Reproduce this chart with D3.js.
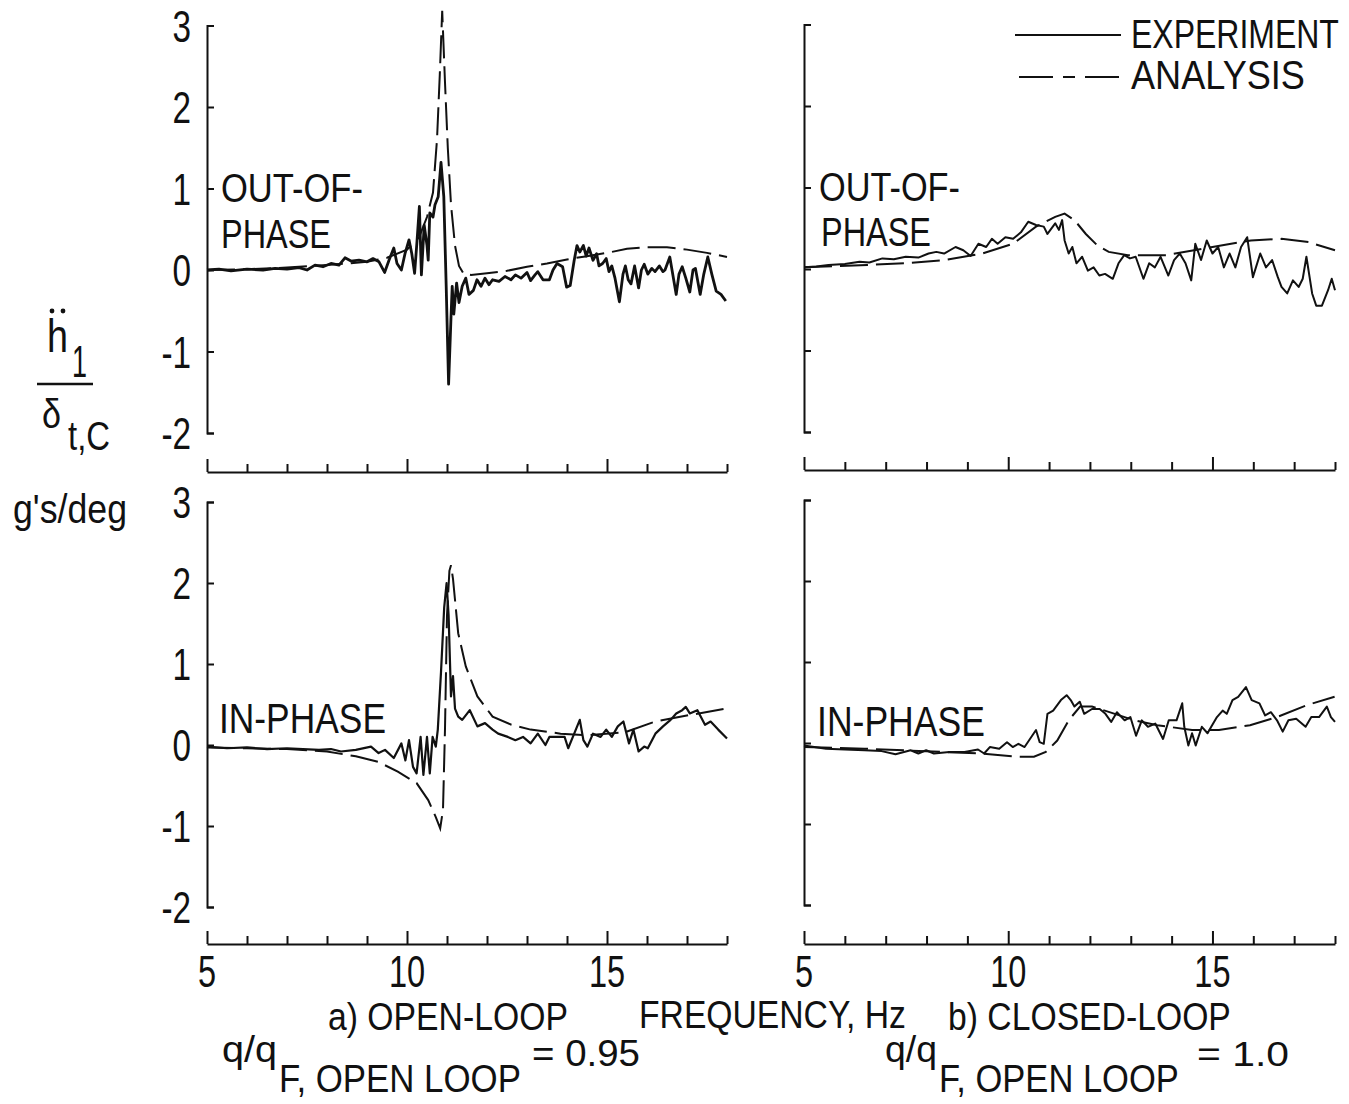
<!DOCTYPE html>
<html>
<head>
<meta charset="utf-8" />
<title>Frequency response, open and closed loop</title>
<style>
  body { margin: 0; background: #fff; }
  text { font-family: "Liberation Sans", Arial, sans-serif; fill: #111; }
  .axis path, .axis line { stroke: #111; stroke-width: 2px; }
  .exp { fill: none; stroke: #111; stroke-width: 2px; stroke-linejoin: round; }
  .ana { fill: none; stroke: #111; stroke-width: 2px; stroke-dasharray: 28,8; }
</style>
</head>
<body>
<svg id="chart" width="1349" height="1104"></svg>
<script src="https://d3js.org/d3.v7.min.js"></script>
<script>
// ---------------- data: [frequency Hz, h1/delta g's/deg] ----------------
var xTicks = [5, 6, 7, 8, 9, 10, 11, 12, 13, 14, 15, 16, 17, 18];
var xLabels = [5, 10, 15];
var yTicks = [-2, -1, 0, 1, 2, 3];

// a) open loop, out-of-phase
var expOpenOut = [[5,0.0],[5.3,0.01],[5.6,-0.01],[6,0.01],[6.4,0.0],[6.7,0.02],[7,0.01],[7.3,0.03],[7.5,0.0],[7.7,0.06],[7.9,0.04],[8.1,0.08],[8.3,0.06],[8.45,0.15],[8.6,0.11],[8.8,0.12],[9.0,0.1],[9.15,0.14],[9.3,0.1],[9.44,-0.03],[9.55,0.12],[9.67,0.27],[9.75,0.08],[9.86,0.0],[9.95,0.2],[10.05,0.37],[10.12,0.2],[10.19,-0.04],[10.25,0.35],[10.31,0.78],[10.36,-0.06],[10.43,0.55],[10.5,0.3],[10.53,0.12],[10.57,0.7],[10.65,0.65],[10.7,0.8],[10.78,0.9],[10.85,1.32],[10.92,0.9],[10.98,-0.2],[11.04,-1.4],[11.1,-0.58],[11.13,-0.2],[11.17,-0.54],[11.24,-0.16],[11.3,-0.4],[11.38,-0.2],[11.47,-0.1],[11.55,-0.3],[11.66,-0.25],[11.75,-0.12],[11.85,-0.2],[11.95,-0.1],[12.05,-0.18],[12.14,-0.12],[12.3,-0.14],[12.45,-0.08],[12.6,-0.12],[12.71,-0.06],[12.85,-0.1],[13.0,-0.03],[13.09,-0.13],[13.2,-0.06],[13.27,-0.02],[13.4,-0.12],[13.56,-0.12],[13.65,0.0],[13.75,0.08],[13.89,0.04],[13.99,-0.21],[14.08,-0.19],[14.18,0.12],[14.25,0.3],[14.32,0.22],[14.41,0.3],[14.48,0.17],[14.55,0.27],[14.65,0.12],[14.74,0.2],[14.8,0.05],[14.89,0.08],[14.98,0.14],[15.05,-0.02],[15.12,0.05],[15.2,-0.1],[15.31,-0.39],[15.4,-0.05],[15.46,0.05],[15.53,-0.12],[15.6,-0.17],[15.69,0.05],[15.79,-0.22],[15.86,0.0],[15.93,0.07],[16.02,-0.05],[16.12,0.02],[16.2,-0.02],[16.31,0.05],[16.4,-0.02],[16.45,0.0],[16.57,0.16],[16.73,-0.3],[16.8,-0.05],[16.88,0.04],[16.97,-0.1],[17.07,-0.27],[17.15,0.0],[17.21,0.02],[17.33,-0.3],[17.42,-0.05],[17.52,0.16],[17.62,-0.05],[17.73,-0.26],[17.85,-0.3],[17.97,-0.38]];
var anaOpenOut = [[5,0],[6,0.01],[7,0.03],[8,0.06],[8.5,0.08],[9,0.1],[9.5,0.15],[10,0.25],[10.3,0.4],[10.5,0.65],[10.65,0.95],[10.75,1.6],[10.82,2.4],[10.88,3.18],[10.95,2.3],[11.02,1.5],[11.1,0.8],[11.2,0.3],[11.3,0.05],[11.42,-0.05],[11.6,-0.06],[12,-0.04],[12.5,-0.01],[13,0.04],[13.5,0.08],[14,0.13],[14.5,0.17],[15,0.21],[15.5,0.26],[16,0.28],[16.5,0.28],[17,0.25],[17.5,0.21],[18,0.16]];

// a) open loop, in-phase
var expOpenIn = [[5,-0.02],[5.5,-0.04],[6,-0.03],[6.5,-0.05],[7,-0.04],[7.4,-0.05],[7.8,-0.06],[8.1,-0.05],[8.35,-0.08],[8.72,-0.06],[9.1,-0.02],[9.29,-0.1],[9.45,-0.06],[9.67,-0.16],[9.86,0.02],[9.96,-0.19],[10.05,0.06],[10.15,-0.27],[10.24,-0.35],[10.34,0.1],[10.41,-0.37],[10.5,0.1],[10.57,-0.35],[10.64,0.1],[10.72,-0.02],[10.77,0.19],[10.85,0.9],[10.93,1.7],[10.99,2.0],[11.04,1.6],[11.1,0.6],[11.15,0.85],[11.2,0.45],[11.28,0.35],[11.38,0.31],[11.57,0.43],[11.76,0.23],[11.95,0.27],[12.14,0.19],[12.28,0.14],[12.52,0.1],[12.71,0.06],[12.9,0.1],[13.09,0.02],[13.27,0.14],[13.46,0.0],[13.56,0.1],[13.75,0.1],[13.94,0.1],[14.03,-0.04],[14.18,0.14],[14.32,0.31],[14.41,0.06],[14.51,-0.02],[14.65,0.14],[14.84,0.1],[14.98,0.19],[15.12,0.1],[15.27,0.23],[15.41,0.29],[15.55,0.02],[15.66,0.19],[15.79,-0.08],[15.93,-0.02],[16.02,-0.04],[16.21,0.14],[16.4,0.23],[16.59,0.31],[16.73,0.39],[16.88,0.43],[16.97,0.47],[17.07,0.39],[17.26,0.43],[17.45,0.25],[17.59,0.29],[17.78,0.19],[18,0.08]];
var anaOpenIn = [[5,-0.03],[6,-0.04],[7,-0.05],[8,-0.08],[8.72,-0.14],[9.29,-0.21],[9.77,-0.33],[10.24,-0.47],[10.53,-0.68],[10.72,-0.89],[10.83,-1.03],[10.9,-0.8],[10.95,0.2],[11.0,1.6],[11.06,2.15],[11.1,2.22],[11.15,2.05],[11.28,1.38],[11.47,0.97],[11.76,0.6],[12.14,0.35],[12.61,0.25],[13.09,0.19],[13.84,0.14],[14.51,0.12],[15.46,0.16],[16.21,0.29],[17.07,0.37],[17.97,0.45]];

// b) closed loop, out-of-phase
var expClosedOut = [[5,0.02],[5.3,0.03],[5.6,0.05],[6,0.06],[6.36,0.09],[6.6,0.08],[6.92,0.13],[7.2,0.12],[7.49,0.15],[7.8,0.14],[8.05,0.19],[8.24,0.21],[8.43,0.19],[8.71,0.27],[8.9,0.23],[9.08,0.16],[9.27,0.31],[9.46,0.27],[9.6,0.37],[9.74,0.31],[9.93,0.39],[10.12,0.37],[10.31,0.45],[10.49,0.58],[10.68,0.54],[10.87,0.52],[10.96,0.43],[11.15,0.56],[11.24,0.48],[11.32,0.6],[11.38,0.35],[11.48,0.19],[11.57,0.27],[11.67,0.07],[11.81,0.15],[11.95,-0.02],[12.09,0.02],[12.23,-0.08],[12.37,-0.06],[12.56,-0.12],[12.7,0.07],[12.84,0.17],[12.98,0.13],[13.12,0.15],[13.31,-0.12],[13.45,0.07],[13.59,0.02],[13.73,0.15],[13.92,-0.08],[14.06,0.11],[14.2,0.19],[14.34,0.07],[14.48,-0.14],[14.58,0.31],[14.72,0.11],[14.86,0.35],[15.0,0.19],[15.14,0.27],[15.28,0.02],[15.42,0.19],[15.56,0.02],[15.7,0.27],[15.85,0.39],[15.99,-0.1],[16.17,0.19],[16.31,0.02],[16.46,0.11],[16.6,-0.1],[16.69,-0.22],[16.83,-0.3],[16.97,-0.14],[17.11,-0.22],[17.21,-0.12],[17.3,0.15],[17.44,-0.3],[17.54,-0.45],[17.68,-0.45],[17.83,-0.26],[17.92,-0.12],[18,-0.26]];
var anaClosedOut = [[5,0.02],[6.55,0.05],[7.49,0.07],[8.43,0.11],[9.37,0.19],[10.12,0.31],[10.68,0.52],[11.15,0.64],[11.38,0.68],[11.62,0.6],[11.9,0.43],[12.18,0.29],[12.46,0.21],[12.93,0.17],[13.87,0.17],[15.0,0.27],[15.94,0.35],[16.69,0.37],[17.35,0.33],[18,0.23]];

// b) closed loop, in-phase
var expClosedIn = [[5,-0.03],[5.54,-0.07],[6.0,-0.08],[6.48,-0.09],[6.9,-0.1],[7.24,-0.14],[7.61,-0.09],[7.8,-0.13],[7.99,-0.09],[8.18,-0.13],[8.56,-0.11],[8.93,-0.11],[9.26,-0.08],[9.41,-0.13],[9.55,-0.05],[9.78,-0.07],[9.97,0.01],[10.11,-0.05],[10.25,-0.01],[10.4,-0.05],[10.68,0.16],[10.77,0.01],[10.87,-0.01],[10.96,0.36],[11.1,0.4],[11.29,0.53],[11.43,0.59],[11.53,0.53],[11.62,0.45],[11.75,0.51],[11.86,0.36],[12.05,0.42],[12.24,0.42],[12.38,0.36],[12.52,0.26],[12.66,0.38],[12.85,0.28],[12.99,0.32],[13.13,0.09],[13.27,0.28],[13.42,0.2],[13.6,0.24],[13.79,0.05],[13.93,0.28],[14.12,0.28],[14.26,0.49],[14.31,0.2],[14.41,-0.03],[14.5,0.12],[14.59,-0.03],[14.74,0.2],[14.88,0.12],[14.97,0.2],[15.11,0.32],[15.25,0.4],[15.35,0.36],[15.49,0.53],[15.63,0.57],[15.82,0.69],[15.96,0.53],[16.15,0.49],[16.29,0.34],[16.43,0.38],[16.58,0.28],[16.72,0.14],[16.86,0.28],[17.05,0.3],[17.28,0.2],[17.42,0.32],[17.61,0.32],[17.8,0.45],[17.9,0.32],[18,0.26]];
var anaClosedIn = [[5,-0.05],[6.48,-0.07],[8.37,-0.11],[9.31,-0.13],[10.25,-0.17],[10.63,-0.17],[10.92,-0.11],[11.2,0.03],[11.48,0.28],[11.76,0.45],[12.05,0.45],[12.61,0.36],[13.08,0.28],[13.65,0.22],[14.5,0.16],[15.16,0.16],[15.92,0.22],[16.58,0.32],[17.33,0.47],[17.99,0.57]];

// ---------------- layout ----------------
var panels = [
  {x0: 207, x1: 727, yTop: 25.5, yBot: 433, axisY: 472, yLab: true, xLab: false, exp: expOpenOut, ana: anaOpenOut, expW: 2.8},
  {x0: 207, x1: 727, yTop: 502, yBot: 907, axisY: 944, yLab: true, xLab: true, exp: expOpenIn, ana: anaOpenIn, expW: 2.2},
  {x0: 804, x1: 1335, yTop: 24.5, yBot: 432, axisY: 470, yLab: false, xLab: false, exp: expClosedOut, ana: anaClosedOut, expW: 2},
  {x0: 804, x1: 1335, yTop: 500, yBot: 905, axisY: 944, yLab: false, xLab: true, exp: expClosedIn, ana: anaClosedIn, expW: 2}
];

var svg = d3.select("#chart");

// condensed text: squeeze horizontally
function txt(x, y, s, size, anchor, sx) {
  return svg.append("text")
    .attr("transform", "translate(" + x + "," + y + ") scale(" + (sx || 0.78) + ",1)")
    .attr("text-anchor", anchor || "start")
    .style("font-size", size + "px")
    .text(s);
}
// fitted text: squeeze to a known width (left edge x, baseline y)
function fit(x, y, s, size, w) {
  var t = svg.append("text")
    .style("font-size", size + "px")
    .text(s);
  var len = t.node().getComputedTextLength();
  t.attr("transform", "translate(" + x + "," + y + ") scale(" + (w / len) + ",1)");
  return t;
}

panels.forEach(function(p) {
  var x = d3.scaleLinear().domain([5, 18]).range([p.x0, p.x1]);
  var y = d3.scaleLinear().domain([-2, 3]).range([p.yBot, p.yTop]);

  // y axis, ticks pointing inward
  svg.append("g").attr("class", "axis")
    .attr("transform", "translate(" + p.x0 + ",0)")
    .call(d3.axisLeft(y).tickValues(yTicks).tickSize(-7).tickSizeOuter(-7).tickFormat(""));

  // x axis, ticks pointing up; long ones at 5, 10, 15
  var xg = svg.append("g").attr("class", "axis")
    .attr("transform", "translate(0," + p.axisY + ")")
    .call(d3.axisTop(x).tickValues(xTicks).tickSize(8).tickSizeOuter(0).tickFormat(""));
  xg.selectAll(".tick line").attr("y2", function(d) { return xLabels.indexOf(d) >= 0 ? -13 : -8; });

  if (p.yLab) {
    yTicks.forEach(function(v) {
      txt(191, y(v) + 16, String(v), 45, "end", 0.74);
    });
  }
  if (p.xLab) {
    xLabels.forEach(function(v) {
      txt(x(v), p.axisY + 43, String(v), 44, "middle", 0.74);
    });
  }

  var line = d3.line()
    .x(function(d) { return x(d[0]); })
    .y(function(d) { return y(d[1]); });

  svg.append("path").datum(p.ana).attr("class", "ana").attr("d", line);
  svg.append("path").datum(p.exp).attr("class", "exp")
    .style("stroke-width", p.expW).attr("d", line);
});

// panel captions
fit(221, 202, "OUT-OF-", 40, 142);
fit(221, 248, "PHASE", 40, 110);
fit(819, 201, "OUT-OF-", 40, 141);
fit(821, 246, "PHASE", 40, 110);
fit(219, 733, "IN-PHASE", 43, 167);
fit(817, 736, "IN-PHASE", 43, 168);

// legend
svg.append("line").attr("x1", 1015).attr("x2", 1121).attr("y1", 35).attr("y2", 35)
  .style("stroke", "#111").style("stroke-width", 2.2);
svg.append("line").attr("x1", 1019).attr("x2", 1119).attr("y1", 77).attr("y2", 77)
  .style("stroke", "#111").style("stroke-width", 2.2).style("stroke-dasharray", "34,10,12,10,34");
fit(1131, 48, "EXPERIMENT", 40, 208);
fit(1131, 89, "ANALYSIS", 40, 174);

// y axis title
fit(47, 352, "h", 46, 21);
svg.append("circle").attr("cx", 52).attr("cy", 311).attr("r", 2.4).style("fill", "#111");
svg.append("circle").attr("cx", 63).attr("cy", 311).attr("r", 2.4).style("fill", "#111");
fit(72, 377, "1", 44, 15);
svg.append("line").attr("x1", 37).attr("x2", 93).attr("y1", 384).attr("y2", 384)
  .style("stroke", "#111").style("stroke-width", 2.5);
fit(42, 428, "δ", 40, 19);
fit(68, 450, "t,C", 40, 42);
fit(13, 523, "g's/deg", 40, 114);

// bottom captions
fit(328, 1030, "a) OPEN-LOOP", 39, 240);
fit(639, 1028, "FREQUENCY, Hz", 39, 267);
fit(948, 1030, "b) CLOSED-LOOP", 39, 283);

fit(222, 1062, "q/q", 37, 55);
fit(279, 1092, "F, OPEN LOOP", 38, 242);
fit(532, 1066, "= 0.95", 36, 108);

fit(885, 1062, "q/q", 37, 52);
fit(939, 1092, "F, OPEN LOOP", 38, 240);
fit(1197, 1066, "= 1.0", 36, 92);
</script>
</body>
</html>
